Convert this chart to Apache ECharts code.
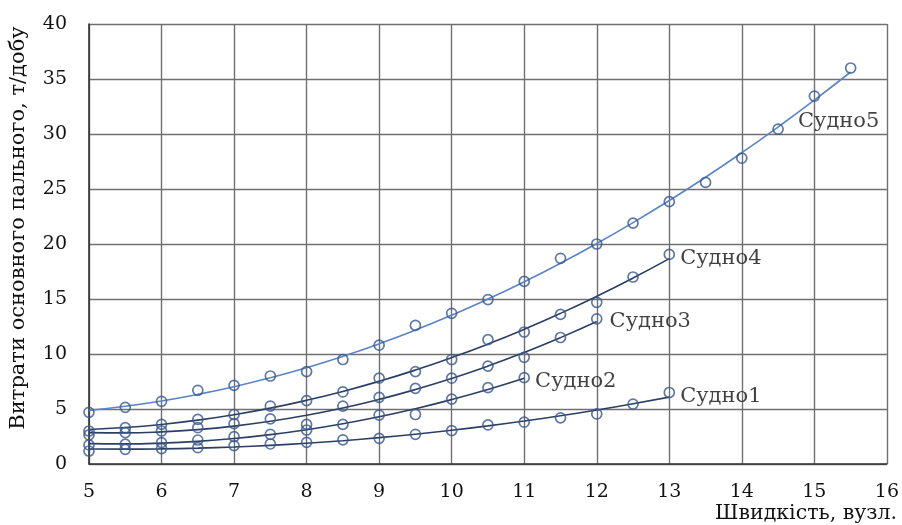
<!DOCTYPE html>
<html><head><meta charset="utf-8">
<script src="https://cdn.jsdelivr.net/npm/echarts@6/dist/echarts.min.js"></script>
<style>html,body{margin:0;padding:0;background:#fff}#c{width:902px;height:525px}</style>
</head><body><div id="c"></div>
<script>
const xTicks = [5,6,7,8,9,10,11,12,13,14,15,16];
const yTicks = [0,5,10,15,20,25,30,35,40];
const xTitle = 'Швидкість, вузл.';
const yTitle = 'Витрати основного пального, т/добу';
const speeds5 = [5,5.5,6,6.5,7,7.5,8,8.5,9,9.5,10,10.5,11,11.5,12,12.5,13,13.5,14,14.5,15,15.5];
const ship5 = [4.7,5.15,5.7,6.7,7.15,8.0,8.4,9.5,10.8,12.6,13.7,14.95,16.6,18.7,20.0,21.9,23.85,25.6,27.8,30.45,33.45,36.0];
const speeds4 = [5,5.5,6,6.5,7,7.5,8,8.5,9,9.5,10,10.5,11,11.5,12,12.5,13];
const ship4 = [3.0,3.3,3.6,4.05,4.5,5.27,5.76,6.55,7.8,8.4,9.5,11.3,12.0,13.6,14.7,17.0,19.05];
const speeds3 = [5,5.5,6,6.5,7,7.5,8,8.5,9,9.5,10,10.5,11,11.5,12];
const ship3 = [2.64,2.85,3.0,3.3,3.67,4.1,3.6,5.27,6.06,6.88,7.8,8.9,9.7,11.5,13.2];
const speeds2 = [5,5.5,6,6.5,7,7.5,8,8.5,9,9.5,10,10.5,11];
const ship2 = [1.73,1.8,1.94,2.18,2.48,2.7,3.09,3.6,4.45,4.5,5.9,6.94,7.85];
const speeds1 = [5,5.5,6,6.5,7,7.5,8,8.5,9,9.5,10,10.5,11,11.5,12,12.5,13];
const ship1 = [1.18,1.33,1.4,1.48,1.67,1.82,1.97,2.2,2.33,2.7,3.03,3.55,3.8,4.2,4.55,5.45,6.5];
const names = ['Судно1','Судно2','Судно3','Судно4','Судно5'];

function polyfit2(xs, ys){
  let S=[0,0,0,0,0], T=[0,0,0];
  for(let i=0;i<xs.length;i++){const x=xs[i],y=ys[i];let p=1;for(let k=0;k<5;k++){S[k]+=p;if(k<3)T[k]+=p*y;p*=x;}}
  const A=[[S[0],S[1],S[2],T[0]],[S[1],S[2],S[3],T[1]],[S[2],S[3],S[4],T[2]]];
  for(let i=0;i<3;i++){for(let j=i+1;j<3;j++){const f=A[j][i]/A[i][i];for(let k=i;k<4;k++)A[j][k]-=f*A[i][k];}}
  const c=[0,0,0];
  for(let i=2;i>=0;i--){let s=A[i][3];for(let k=i+1;k<3;k++)s-=A[i][k]*c[k];c[i]=s/A[i][i];}
  return xs.map(x=>[x,c[0]+c[1]*x+c[2]*x*x]);
}

const FONT = 'DejaVu Serif';
const sets = [
  {x:speeds1,y:ship1,line:'#2b3f63',labelIdx:speeds1.length-1,dist:5,off:[0,4]},
  {x:speeds2,y:ship2,line:'#2b3f63',labelIdx:speeds2.length-1,dist:5,off:[0,4]},
  {x:speeds3,y:ship3,line:'#2b3f63',labelIdx:speeds3.length-1,dist:7,off:[0,3]},
  {x:speeds4,y:ship4,line:'#2b3f63',labelIdx:speeds4.length-1,dist:5,off:[0,4]},
  {x:speeds5,y:ship5,line:'#5a85c6',labelIdx:19,dist:14,off:[0,-8]}
];
const series=[];
sets.forEach((s,i)=>{
  series.push({type:'line',name:names[i]+'-fit',data:polyfit2(s.x,s.y),smooth:true,showSymbol:false,
    lineStyle:{color:s.line,width:1.6},silent:true,z:2});
  series.push({type:'scatter',name:names[i],symbol:'circle',symbolSize:10,z:3,
    itemStyle:{color:'rgba(255,255,255,0)',borderColor:'#37588f',borderWidth:1.7},
    data:s.x.map((x,j)=>{const d={value:[x,s.y[j]]};
      if(j===s.labelIdx){d.label={show:true,position:'right',distance:s.dist,offset:s.off,formatter:names[i],
        fontFamily:FONT,fontSize:21,color:'#111'};}
      return d;})
  });
});
const chart=echarts.init(document.getElementById('c'),null,{renderer:'canvas'});
chart.setOption({
  animation:false,
  backgroundColor:'#fff',
  grid:{left:89,top:24,right:14,bottom:61,containLabel:false},
  xAxis:{type:'value',min:5,max:16,interval:1,
    axisLine:{show:true,lineStyle:{color:'#333',width:1.6}},axisTick:{show:false},
    axisLabel:{fontFamily:FONT,fontSize:19,color:'#111',margin:19},
    splitLine:{show:true,lineStyle:{color:'#707070',width:1.4}}},
  yAxis:{type:'value',min:0,max:40,interval:5,
    axisLine:{show:true,lineStyle:{color:'#333',width:1.6}},axisTick:{show:false},
    axisLabel:{fontFamily:FONT,fontSize:19,color:'#111',margin:22},
    splitLine:{show:true,lineStyle:{color:'#707070',width:1.4}}},
  graphic:[
    {type:'text',x:897,y:514,style:{text:xTitle,font:'20.5px "DejaVu Serif"',fill:'#111',align:'right',verticalAlign:'middle'}},
    {type:'text',x:19,y:228,rotation:Math.PI/2,style:{text:yTitle,font:'21px "DejaVu Serif"',fill:'#111',align:'center',verticalAlign:'middle'}}
  ],
  series:series
});
</script></body></html>
